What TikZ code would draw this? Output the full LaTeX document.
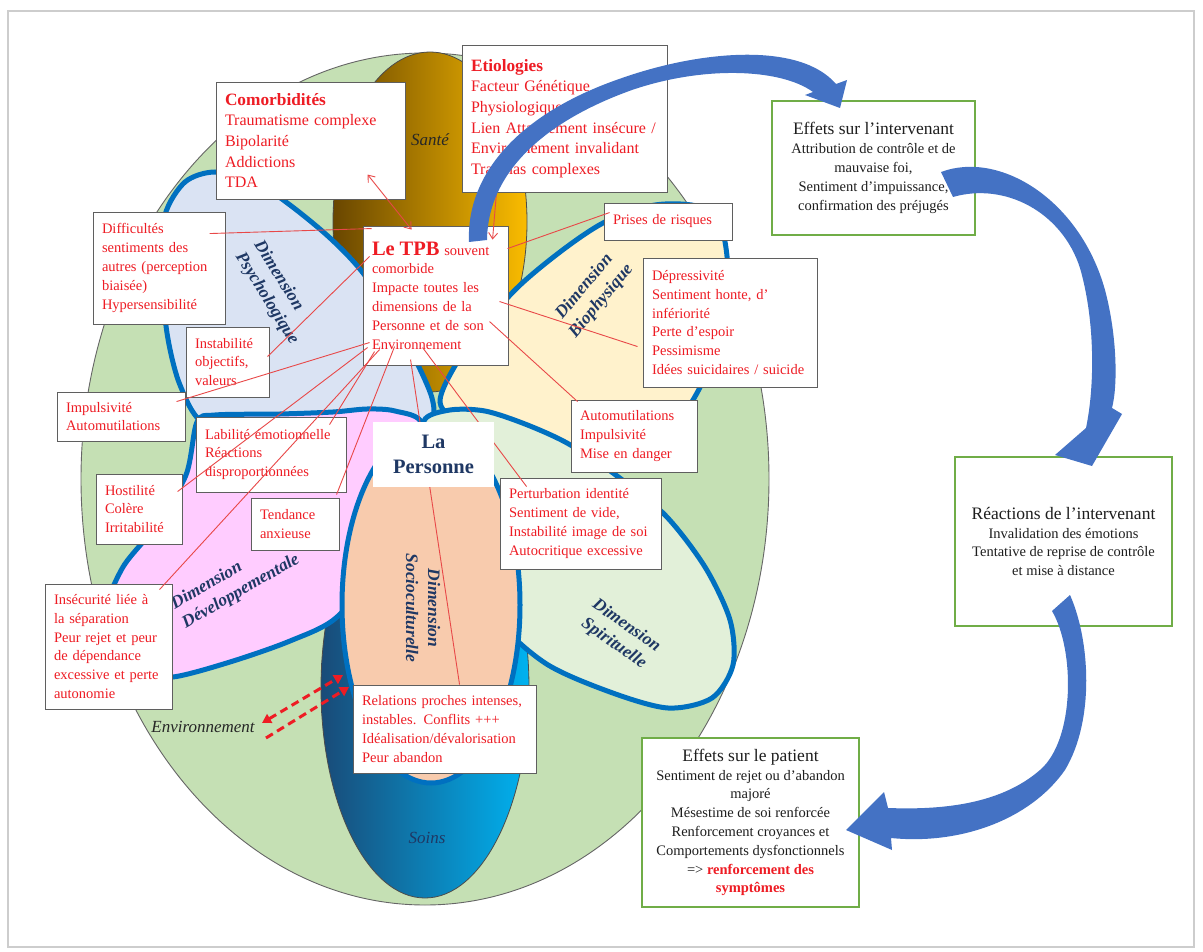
\documentclass[tikz,border=0pt]{standalone}
\usepackage{fontspec}
\setmainfont{Liberation Serif}
\usetikzlibrary{arrows.meta}
\definecolor{txtred}{RGB}{238,28,36}
\definecolor{linered}{RGB}{232,72,72}
\definecolor{navy}{RGB}{31,56,100}
\definecolor{petalblue}{RGB}{0,112,192}
\definecolor{arrowblue}{RGB}{68,114,196}
\definecolor{envgreen}{RGB}{197,224,180}
\definecolor{psychfill}{RGB}{218,227,243}
\definecolor{biofill}{RGB}{255,242,204}
\definecolor{spiritfill}{RGB}{226,240,217}
\definecolor{sociofill}{RGB}{248,203,173}
\definecolor{devfill}{RGB}{255,204,255}
\definecolor{boxgray}{RGB}{95,95,95}
\definecolor{boxgreen}{RGB}{112,173,71}
\definecolor{framegray}{RGB}{205,205,205}
\definecolor{santedark}{RGB}{105,70,0}
\definecolor{santegold}{RGB}{250,188,0}
\definecolor{soinsdark}{RGB}{25,75,120}
\definecolor{soinslight}{RGB}{0,178,240}
\definecolor{gtext}{RGB}{30,30,30}
\newcommand\fsmall{\fontsize{14.5}{18.8}\selectfont}
\newcommand\fbody{\fontsize{16}{20.7}\selectfont}
\newcommand\ftitle{\fontsize{17.3}{20.7}\selectfont\bfseries}
\newcommand\gtitle{\fontsize{17.5}{21}\selectfont}
\begin{document}
\begin{tikzpicture}[x=1pt,y=-1pt,
  rbox/.style={draw=boxgray, line width=0.9pt, fill=white, text=txtred, align=left, inner xsep=9pt, inner ysep=2pt, font=\fsmall},
  gbox/.style={draw=boxgreen, line width=1.8pt, fill=white, text=gtext, align=center, inner sep=2pt, font=\fsmall},
  petal/.style={draw=petalblue, line width=5pt},
  dimlab/.style={font=\fontsize{17.5}{22}\selectfont\bfseries\itshape, text=navy, inner sep=0pt},
  link/.style={draw=linered, line width=0.9pt, >={Straight Barb[length=6pt,width=9pt]}},
  dashlink/.style={draw=txtred, line width=3pt, dash pattern=on 8pt off 5pt, >={Triangle[length=9pt,width=10pt]}},
  bluearrow/.style={fill=arrowblue}]
\useasboundingbox (0,0) rectangle (1203,952);
\fill[white] (0,0) rectangle (1203,952);
\draw[framegray, line width=1.5pt] (8,11) rectangle (1194,947);

% background shapes
\draw[fill=envgreen, draw=black!60, line width=0.9pt] (425,479) ellipse [x radius=344pt, y radius=426pt];
\shadedraw[left color=santedark, right color=santegold, draw=black!70, line width=0.8pt] (430,222) ellipse [x radius=97pt, y radius=170pt];
\shadedraw[left color=soinsdark, right color=soinslight, draw=black!70, line width=0.8pt] (425,688) ellipse [x radius=104pt, y radius=210pt];

% petals
\draw[petal, fill=psychfill] plot[smooth cycle] coordinates {(165,215) (185,182) (215,172) (255,182) (290,205) (330,238) (363,273) (400,330) (432,398) (425,425) (360,432) (270,432) (205,424) (180,385) (167,333) (162,270)};
\draw[petal, fill=biofill] plot[smooth cycle] coordinates {(440,402) (465,350) (513,292) (560,252) (605,222) (655,205) (700,207) (722,230) (728,280) (718,340) (697,393) (660,445) (610,470) (540,452) (470,428)};
\draw[petal, fill=devfill] plot[smooth cycle] coordinates {(422,424) (395,411) (367,409) (333,412) (280,414) (215,415) (197,422) (186,475) (155,527) (123,567) (105,612) (112,652) (137,673) (173,677) (230,662) (290,641) (337,617) (380,560) (410,480)};
\draw[petal, fill=spiritfill] plot[smooth cycle] coordinates {(424,421) (450,410) (485,411) (525,424) (567,443) (613,473) (665,515) (705,567) (730,620) (733,665) (712,698) (668,708) (610,692) (545,663) (495,615) (460,530) (435,460)};
\draw[petal, fill=sociofill] (431,605) ellipse [x radius=89pt, y radius=178pt];

% dimension labels
\node[dimlab, rotate=-58, align=left] (psy) at (276,293) {Dimension\\Psychologique};
\node[dimlab, rotate=50, align=center] (bio) at (593,294) {Dimension\\Biophysique};
\node[dimlab, rotate=-35, align=center] (spi) at (620,635) {Dimension\\Spirituelle};
\node[dimlab, rotate=-90, align=center] (soc) at (423,608) {Dimension\\Socioculturelle};
\node[dimlab, rotate=30, align=left] (dev) at (235.5,582) {Dimension\\Développementale};

\node[font=\fontsize{17}{20}\selectfont\itshape, text=black!85] (sante) at (430,140) {Santé};
\node[font=\fontsize{17}{20}\selectfont\itshape, text=navy] (soins) at (427,838) {Soins};
\node[font=\fontsize{17}{20}\selectfont\itshape, text=black!85, inner sep=2pt] (env) at (203,727) {Environnement};

% red boxes
\node[rbox, text width=171pt, minimum height=117pt, font=\fbody] (comorb) at (310.5,140.5) {{\ftitle Comorbidités}\\Traumatisme complexe\\Bipolarité\\Addictions\\TDA};
\node[rbox, text width=187pt, minimum height=147pt, font=\fbody] (etio) at (564.5,118.5) {{\ftitle Etiologies}\\Facteur Génétique\\Physiologique\\Lien Attachement insécure /\\Environnement invalidant\\Traumas complexes};
\node[rbox, text width=127pt, minimum height=139pt] (tpb) at (435.5,295.5) {{\fontsize{20.5}{22}\selectfont\bfseries Le TPB} souvent\\comorbide\\Impacte toutes les\\dimensions de la\\Personne et de son\\Environnement};
\node[rbox, text width=114pt, minimum height=112pt] (diff) at (159,268) {Difficultés\\sentiments des\\autres (perception\\biaisée)\\Hypersensibilité};
\node[rbox, text width=110pt, minimum height=37pt] (prises) at (668,221.5) {Prises de risques};
\node[rbox, text width=156pt, minimum height=129pt] (depr) at (730,322.5) {Dépressivité\\Sentiment honte, d’\\infériorité\\Perte d’espoir\\Pessimisme\\Idées suicidaires / suicide};
\node[rbox, text width=65pt, minimum height=70pt] (instab) at (227.5,362) {Instabilité\\objectifs,\\valeurs};
\node[rbox, text width=110pt, minimum height=49pt] (impuls) at (121,416.5) {Impulsivité\\Automutilations};
\node[rbox, text width=132pt, minimum height=75pt] (labil) at (271,454.5) {Labilité émotionnelle\\Réactions\\disproportionnées};
\node[rbox, text width=68pt, minimum height=70pt] (hostil) at (139,509) {Hostilité\\Colère\\Irritabilité};
\node[rbox, text width=70pt, minimum height=52pt] (tend) at (295,524) {Tendance\\anxieuse};
\node[rbox, text width=108pt, minimum height=72pt] (automut) at (634,436) {Automutilations\\Impulsivité\\Mise en danger};
\node[rbox, text width=143pt, minimum height=91pt] (perturb) at (580.5,523.5) {Perturbation identité\\Sentiment de vide,\\Instabilité image de soi\\Autocritique excessive};
\node[rbox, text width=109pt, minimum height=125pt] (insec) at (108.5,646.5) {Insécurité liée à\\la séparation\\Peur rejet et peur\\de dépendance\\excessive et perte\\autonomie};
\node[rbox, text width=165pt, minimum height=88pt] (relat) at (444.5,729) {Relations proches intenses,\\instables. Conflits +++\\Idéalisation/dévalorisation\\Peur abandon};

% green boxes
\node[gbox, minimum width=203pt, minimum height=134pt] (effint) at (873.5,168) {{\gtitle Effets sur l’intervenant}\\Attribution de contrôle et de\\mauvaise foi,\\Sentiment d’impuissance,\\confirmation des préjugés};
\node[gbox, minimum width=217pt, minimum height=169pt] (react) at (1063.5,541.5) {{\gtitle Réactions de l’intervenant}\\Invalidation des émotions\\Tentative de reprise de contrôle\\et mise à distance};
\node[gbox, minimum width=217pt, minimum height=169pt] (patient) at (750.5,822.5) {{\gtitle Effets sur le patient}\\Sentiment de rejet ou d’abandon\\majoré\\Mésestime de soi renforcée\\Renforcement croyances et\\Comportements dysfonctionnels\\=> {\bfseries\color{txtred}renforcement des}\\{\bfseries\color{txtred}symptômes}};

% red connectors
\draw[link, <->] ([shift={(152,93)}]comorb.north west) -- ([shift={(49,4)}]tpb.north west);
\draw[link, ->] ([shift={(35,147)}]etio.north west) -- ([shift={(130,14)}]tpb.north west);
\draw[link] ([shift={(117,22)}]diff.north west) -- ([shift={(9,3)}]tpb.north west);
\draw[link] ([shift={(6,10)}]prises.north west) -- ([shift={(145,23)}]tpb.north west);
\draw[link] ([shift={(-5,89)}]depr.north west) -- ([shift={(137,76)}]tpb.north west);
\draw[link] ([shift={(7,2)}]automut.north west) -- ([shift={(127,96)}]tpb.north west);
\draw[link] ([shift={(27,9)}]perturb.north west) -- ([shift={(60,122)}]tpb.north west);
\draw[link] ([shift={(107,0)}]relat.north west) -- ([shift={(48,134)}]tpb.north west);
\draw[link] ([shift={(82,30)}]instab.north west) -- ([shift={(7,31)}]tpb.north west);
\draw[link] ([shift={(120,10)}]impuls.north west) -- ([shift={(7,117)}]tpb.north west);
\draw[link] ([shift={(82,18)}]hostil.north west) -- ([shift={(5,122)}]tpb.north west);
\draw[link] ([shift={(134,8)}]labil.north west) -- ([shift={(12,126)}]tpb.north west);
\draw[link] ([shift={(115,6)}]insec.north west) -- ([shift={(17,124)}]tpb.north west);
\draw[link] ([shift={(86,-3)}]tend.north west) -- ([shift={(32,121)}]tpb.north west);

% La Personne
\node[fill=white, minimum width=121pt, minimum height=65pt, font=\fontsize{20.5}{25}\selectfont\bfseries, text=navy, align=center] (pers) at (433.5,454.5) {La\\Personne};

% dashed arrows to environment
\coordinate (da1) at (262,723);
\coordinate (da2) at (343,675);
\coordinate (db1) at (266,738);
\coordinate (db2) at (349,687);
\draw[dashlink, <->] (da1) -- (da2);
\draw[dashlink, ->] (db1) -- (db2);

% blue curved arrows
\fill[bluearrow] (469,242) .. controls (466,172) and (522,112) .. (622,78) .. controls (702,50) and (800,42) .. (836,84) -- (847,80) -- (840,108) -- (805,95) -- (813,92) .. controls (780,68) and (702,66) .. (632,90) .. controls (548,120) and (488,170) .. (487,240) -- cycle;
\fill[bluearrow] (941,172) .. controls (1000,150) and (1080,200) .. (1105,290) .. controls (1117,335) and (1118,385) .. (1112,408) -- (1122,414) -- (1092,466) -- (1055,455) -- (1086,428) .. controls (1095,385) and (1095,320) .. (1080,268) .. controls (1062,212) and (1005,182) .. (953,197) -- cycle;
\fill[bluearrow] (1052,611) .. controls (1075,650) and (1075,740) .. (1040,770) .. controls (1000,805) and (940,810) .. (888,808) -- (884,792) -- (846,830) -- (892,850) -- (891,838) .. controls (960,845) and (1030,820) .. (1065,770) .. controls (1095,720) and (1090,640) .. (1070,595) -- cycle;
\end{tikzpicture}
\end{document}
